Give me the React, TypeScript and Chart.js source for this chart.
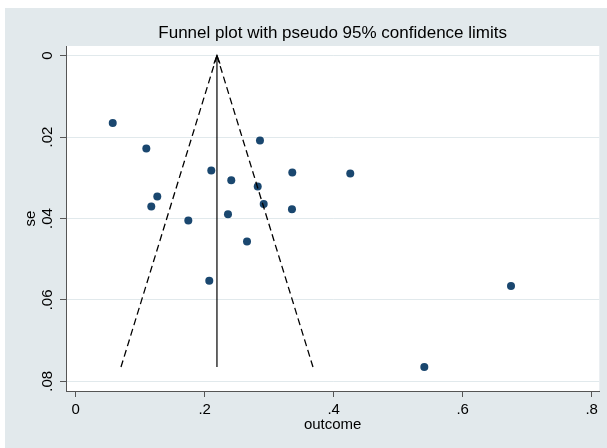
import React, { useEffect, useRef } from "react";
import { Chart, registerables } from "chart.js";

Chart.register(...registerables);

// Study estimates (x = outcome, y = standard error)
const outcomeValues = [
  0.0574, 0.1095, 0.2857, 0.2102, 0.3358, 0.4257, 0.2412, 0.2822, 0.1265,
  0.1172, 0.2915, 0.3353, 0.1746, 0.2361, 0.2656, 0.2071, 0.6749, 0.5405,
];
const seValues = [
  0.01654, 0.02282, 0.02086, 0.02822, 0.02871, 0.02896, 0.0306, 0.03215,
  0.0346, 0.03706, 0.03642, 0.03772, 0.04049, 0.03894, 0.04564, 0.05531,
  0.05661, 0.07649,
];

// Funnel
const pooledEstimate = 0.219;
const funnelTopSe = 0;
const funnelBaseSe = 0.0765;
const lowerLimitAtBase = 0.0702;
const upperLimitAtBase = 0.3679;

// Axes
const xMin = -0.01504;
const xMax = 0.8118;
const yMin = -0.00236;
const yMax = 0.08238;
const xTickValues = [0, 0.2, 0.4, 0.6, 0.8];
const xTickLabels = ["0", ".2", ".4", ".6", ".8"];
const yTickValues = [0, 0.02, 0.04, 0.06, 0.08];
const yTickLabels = ["0", ".02", ".04", ".06", ".08"];

const titleText = "Funnel plot with pseudo 95% confidence limits";
const xTitle = "outcome";
const yTitle = "se";

const FONT = "'Liberation Sans', Arial, Helvetica, sans-serif";
const BG = "#e2e9ec";
const AXIS = "#555555";
const GRID = "#e1e9ec";
const POINT = "#1a476f";

const labelFor = (values: number[], labels: string[], v: number) => {
  const i = values.findIndex((t) => Math.abs(t - v) < 1e-9);
  return i >= 0 ? labels[i] : "";
};

const backgroundPlugin = {
  id: "stataBackground",
  beforeDraw(chart: any) {
    const { ctx, width, height, chartArea } = chart;
    ctx.save();
    ctx.fillStyle = "#ffffff";
    ctx.fillRect(0, 0, width, height);
    ctx.fillStyle = BG;
    ctx.fillRect(5, 8, width - 5, height - 8);
    ctx.fillStyle = "#ffffff";
    ctx.fillRect(
      chartArea.left,
      chartArea.top,
      chartArea.right - chartArea.left,
      chartArea.bottom - chartArea.top
    );
    ctx.restore();
  },
};

const arrowPlugin = {
  id: "pooledArrow",
  afterDatasetsDraw(chart: any) {
    const { ctx } = chart;
    const xs = chart.scales.x;
    const ys = chart.scales.y;
    const px = xs.getPixelForValue(pooledEstimate);
    const py = ys.getPixelForValue(funnelTopSe);
    ctx.save();
    ctx.strokeStyle = "#000";
    ctx.lineWidth = 1.3;
    ctx.beginPath();
    ctx.moveTo(px - 3, py + 8);
    ctx.lineTo(px, py);
    ctx.lineTo(px + 3, py + 8);
    ctx.stroke();
    ctx.restore();
  },
};

export default function App() {
  const canvasRef = useRef<HTMLCanvasElement | null>(null);

  useEffect(() => {
    if (!canvasRef.current) return;
    const points = outcomeValues.map((x, i) => ({ x, y: seValues[i] }));
    const chart = new Chart(canvasRef.current, {
      type: "scatter",
      data: {
        datasets: [
          {
            label: "lower",
            data: [
              { x: pooledEstimate, y: funnelTopSe },
              { x: lowerLimitAtBase, y: funnelBaseSe },
            ],
            showLine: true,
            borderColor: "#000",
            borderWidth: 1.3,
            borderDash: [7, 4],
            pointRadius: 0,
            fill: false,
          },
          {
            label: "upper",
            data: [
              { x: pooledEstimate, y: funnelTopSe },
              { x: upperLimitAtBase, y: funnelBaseSe },
            ],
            showLine: true,
            borderColor: "#000",
            borderWidth: 1.3,
            borderDash: [7, 4],
            pointRadius: 0,
            fill: false,
          },
          {
            label: "pooled",
            data: [
              { x: pooledEstimate, y: funnelTopSe },
              { x: pooledEstimate, y: funnelBaseSe },
            ],
            showLine: true,
            borderColor: "#000",
            borderWidth: 1.2,
            pointRadius: 0,
            fill: false,
          },
          {
            label: "studies",
            data: points,
            backgroundColor: POINT,
            borderColor: POINT,
            borderWidth: 0,
            pointRadius: 4,
            pointHoverRadius: 4,
          },
        ],
      },
      options: {
        animation: false,
        responsive: false,
        devicePixelRatio: 1,
        layout: { padding: { left: 0, right: 7.7, top: 0, bottom: 0 } },
        plugins: {
          legend: { display: false },
          tooltip: { enabled: false },
          title: {
            display: true,
            fullSize: false,
            align: "center",
            text: titleText,
            color: "#000",
            font: { family: FONT, size: 17, weight: "normal" },
            padding: { top: 23.4, bottom: 2.2 },
          },
        },
        scales: {
          x: {
            type: "linear",
            min: xMin,
            max: xMax,
            afterBuildTicks: (s: any) => {
              s.ticks = xTickValues.map((v) => ({ value: v }));
            },
            afterFit: (s: any) => {
              s.height = 57;
            },
            ticks: {
              autoSkip: false,
              maxRotation: 0,
              minRotation: 0,
              padding: 4,
              color: "#000",
              font: { family: FONT, size: 15 },
              callback: (v: any) => labelFor(xTickValues, xTickLabels, Number(v)),
            },
            grid: {
              drawOnChartArea: false,
              drawTicks: true,
              tickLength: 6,
              tickColor: AXIS,
              tickWidth: 1,
            },
            border: { display: true, color: AXIS, width: 1 },
            title: {
              display: true,
              text: xTitle,
              color: "#000",
              font: { family: FONT, size: 15 },
              padding: { top: 0, bottom: 14.4 },
            },
          },
          y: {
            type: "linear",
            reverse: true,
            min: yMin,
            max: yMax,
            afterBuildTicks: (s: any) => {
              s.ticks = yTickValues.map((v) => ({ value: v }));
            },
            afterFit: (s: any) => {
              s.width = 66;
            },
            ticks: {
              autoSkip: false,
              minRotation: 90,
              maxRotation: 90,
              crossAlign: "center",
              padding: 1.3,
              color: "#000",
              font: { family: FONT, size: 15 },
              callback: (v: any) => labelFor(yTickValues, yTickLabels, Number(v)),
            },
            grid: {
              color: GRID,
              lineWidth: 1,
              drawOnChartArea: true,
              drawTicks: true,
              tickLength: 6,
              tickColor: AXIS,
              tickWidth: 1,
            },
            border: { display: true, color: AXIS, width: 1 },
            title: {
              display: true,
              text: yTitle,
              color: "#000",
              font: { family: FONT, size: 15 },
              padding: { top: 22, bottom: 0 },
            },
          },
        },
      },
      plugins: [backgroundPlugin, arrowPlugin],
    } as any);
    return () => chart.destroy();
  }, []);

  return (
    <div style={{ position: "fixed", left: 0, top: 0, width: 607, height: 448 }}>
      <canvas ref={canvasRef} width={607} height={448} style={{ display: "block" }} />
    </div>
  );
}
